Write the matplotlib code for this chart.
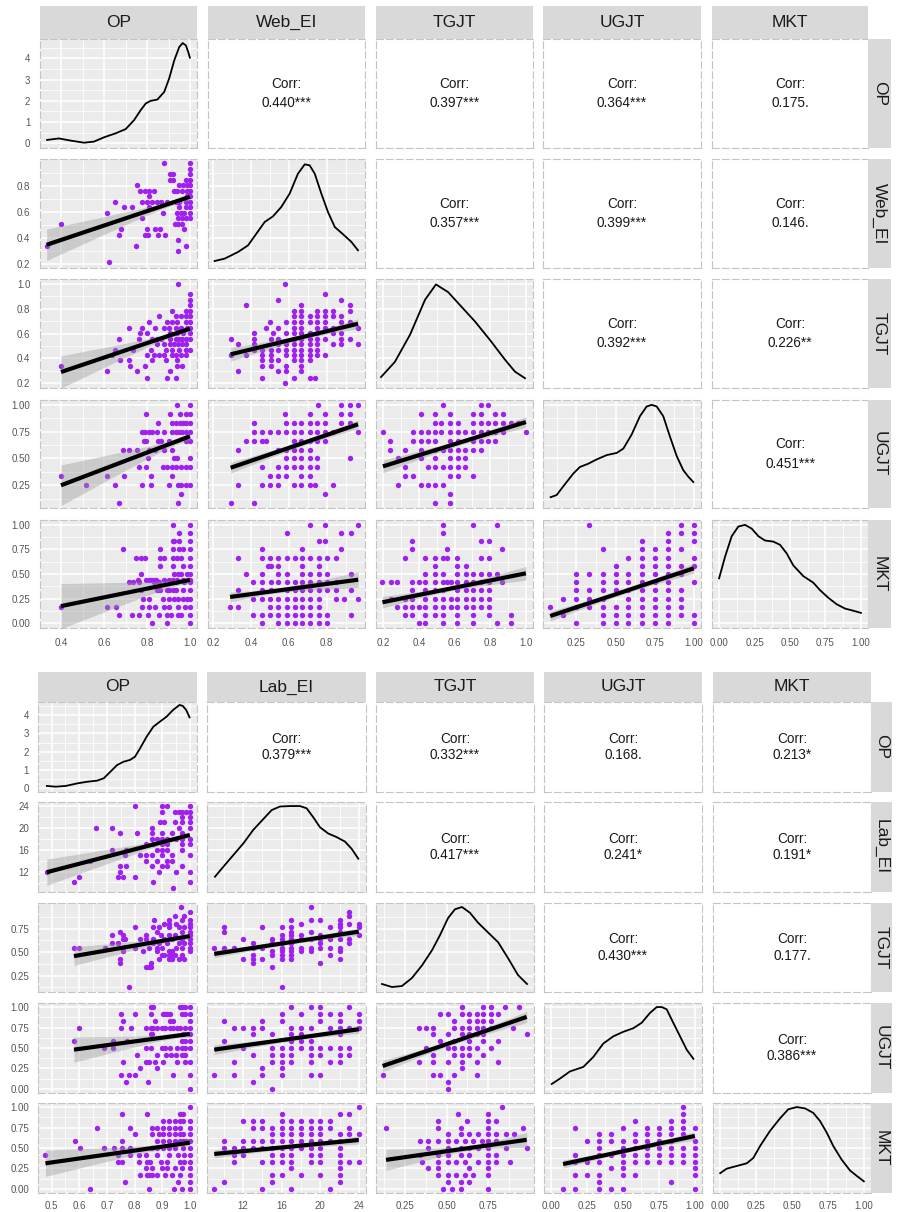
import matplotlib
matplotlib.use("Agg")
import matplotlib.pyplot as plt
import numpy as np

plt.rcParams['font.family'] = ['Liberation Sans', 'DejaVu Sans']

W, H = 901, 1212

# ---------------- upper matrix (Web_EI) ----------------
top_vars = ['OP', 'Web_EI', 'TGJT', 'UGJT', 'MKT']
top_lims = [(0.300, 1.033), (0.172, 1.003), (0.160, 1.040), (0.037, 1.046), (-0.05, 1.05)]
top_breaks = [[0.4, 0.6, 0.8, 1.0], [0.2, 0.4, 0.6, 0.8], [0.2, 0.4, 0.6, 0.8, 1.0],
              [0.25, 0.5, 0.75, 1.0], [0.0, 0.25, 0.5, 0.75, 1.0]]
top_fmt = ['{:.1f}', '{:.1f}', '{:.1f}', '{:.2f}', '{:.2f}']
top_dens_lim = (-0.22, 4.91)
top_corr = [['0.440***', '0.397***', '0.364***', '0.175.'],
            ['0.357***', '0.399***', '0.146.'],
            ['0.392***', '0.226**'],
            ['0.451***']]

# diagonal densities: first one in density units, the others as share of panel height
top_dens_x = [
    [0.333, 0.388, 0.442, 0.505, 0.552, 0.598, 0.653, 0.700, 0.739, 0.770, 0.794, 0.817, 0.848, 0.880,
     0.903, 0.927, 0.950, 0.966, 0.981, 0.992, 1.0],
    [0.207, 0.260, 0.331, 0.384, 0.428, 0.472, 0.516, 0.560, 0.604, 0.648, 0.684, 0.710, 0.737, 0.772,
     0.807, 0.843, 0.887, 0.931, 0.966],
    [0.188, 0.266, 0.351, 0.435, 0.496, 0.564, 0.631, 0.715, 0.799, 0.883, 0.939, 0.995],
    [0.086, 0.124, 0.177, 0.231, 0.273, 0.326, 0.380, 0.444, 0.508, 0.550, 0.603, 0.656, 0.699, 0.731,
     0.763, 0.805, 0.848, 0.891, 0.933, 0.965, 0.997],
    [0.0, 0.042, 0.089, 0.136, 0.183, 0.230, 0.277, 0.324, 0.382, 0.430, 0.477, 0.523, 0.594, 0.664,
     0.712, 0.770, 0.829, 0.888, 0.946, 1.0],
]
top_dens_h = [
    [0.16, 0.23, 0.13, 0.03, 0.08, 0.28, 0.47, 0.67, 1.09, 1.56, 1.88, 2.00, 2.06, 2.42, 3.05, 3.91,
     4.53, 4.72, 4.61, 4.30, 4.03],
    [0.064, 0.086, 0.147, 0.208, 0.315, 0.422, 0.474, 0.560, 0.682, 0.865, 0.951, 0.942, 0.865, 0.682,
     0.514, 0.376, 0.309, 0.239, 0.162],
    [0.10, 0.24, 0.49, 0.81, 0.95, 0.88, 0.76, 0.61, 0.44, 0.26, 0.15, 0.09],
    [0.10, 0.12, 0.22, 0.32, 0.38, 0.41, 0.45, 0.49, 0.51, 0.55, 0.68, 0.85, 0.94, 0.955, 0.94, 0.85,
     0.66, 0.48, 0.35, 0.29, 0.24],
    [0.46, 0.66, 0.85, 0.94, 0.955, 0.92, 0.85, 0.81, 0.80, 0.77, 0.69, 0.58, 0.48, 0.42, 0.35, 0.28,
     0.22, 0.18, 0.16, 0.14],
]

# scatter points: (y level, [x values])
top_web_op = [
    (0.973, [0.878, 1.0]), (0.93, [1.0]), (0.887, [0.906, 0.92, 1.0]),
    (0.846, [0.906, 0.92, 0.98, 1.0]), (0.803, [0.753, 0.948, 0.967, 0.988, 1.0]),
    (0.76, [0.766, 0.789, 0.808, 0.834, 0.925, 0.941, 0.964, 0.988, 1.0]),
    (0.72, [0.808, 0.988, 1.0]),
    (0.677, [0.652, 0.777, 0.80, 0.823, 0.847, 0.863, 0.894, 0.933, 0.948, 0.98, 1.0]),
    (0.634, [0.691, 0.730, 0.808, 0.948, 0.98, 1.0]),
    (0.594, [0.612, 0.873, 0.941, 0.956, 0.972, 1.0]),
    (0.551, [0.777, 0.945, 0.964, 0.98, 1.0]), (0.508, [0.398, 0.93, 0.945, 0.964]),
    (0.467, [0.680, 0.80, 0.836, 0.858, 0.972]), (0.425, [0.667, 0.789, 0.805, 0.852, 0.883]),
    (0.382, [0.945]), (0.341, [0.331, 0.75, 0.98]), (0.298, [0.945]), (0.215, [0.62]),
]
top_tgjt_op = [
    (1.002, [0.945]), (0.916, [1.0]), (0.873, [1.0]), (0.827, [1.0]), (0.782, [0.917, 0.98, 1.0]),
    (0.739, [0.855, 0.933, 0.956, 0.98, 1.0]), (0.693, [0.808, 0.894, 0.917, 0.941, 0.98, 1.0]),
    (0.647, [0.714, 0.777, 0.839, 0.878, 0.902, 0.933, 0.956, 0.988, 1.0]),
    (0.607, [0.769, 0.800, 0.909, 0.941, 0.967, 1.0]),
    (0.558, [0.667, 0.761, 0.823, 0.847, 0.863, 0.909, 0.933, 0.948, 0.964, 0.98, 1.0]),
    (0.513, [0.847, 0.878, 0.905, 0.925, 0.945, 0.961, 0.98]),
    (0.470, [0.648, 0.733, 0.816, 0.886, 0.917, 0.948, 0.98, 1.0]),
    (0.424, [0.636, 0.800, 0.831, 0.855, 0.878, 0.914, 0.936, 0.956, 0.98]),
    (0.384, [0.675, 0.714, 0.823, 0.886, 0.941]), (0.338, [0.398, 0.722, 0.792, 0.941, 0.964]),
    (0.295, [0.612, 0.753, 0.909]), (0.244, [0.800, 0.891, 0.936]),
]
top_tgjt_web = [
    (1.002, [0.581]), (0.916, [0.793]), (0.873, [0.543, 0.878]), (0.827, [0.375, 0.666, 0.922]),
    (0.782, [0.627, 0.666, 0.751, 0.793, 0.834, 0.922]),
    (0.739, [0.627, 0.666, 0.710, 0.751, 0.793, 0.834, 0.878]),
    (0.693, [0.498, 0.587, 0.627, 0.666, 0.710, 0.751, 0.793, 0.878, 0.922]),
    (0.647, [0.477, 0.543, 0.627, 0.666, 0.751, 0.793, 0.834, 0.966]),
    (0.607, [0.415, 0.517, 0.587, 0.627, 0.666, 0.710, 0.751, 0.834, 0.878]),
    (0.558, [0.292, 0.415, 0.507, 0.543, 0.627, 0.666, 0.710, 0.751, 0.793, 0.878, 0.922]),
    (0.513, [0.331, 0.415, 0.543, 0.587, 0.627, 0.666, 0.710, 0.751, 0.834, 0.878, 0.966]),
    (0.470, [0.415, 0.458, 0.507, 0.543, 0.587, 0.627, 0.666, 0.710, 0.751]),
    (0.424, [0.292, 0.375, 0.458, 0.507, 0.587, 0.627, 0.666, 0.710, 0.751, 0.793]),
    (0.384, [0.458, 0.507, 0.543, 0.627, 0.666, 0.710]), (0.338, [0.458, 0.507, 0.587, 0.666]),
    (0.295, [0.331, 0.543, 0.587, 0.666]), (0.244, [0.458, 0.627, 0.710, 0.737]), (0.20, [0.581]),
]
top_ugjt_op = [
    (1.0, [0.941, 1.0]), (0.917, [0.795, 0.909, 0.952, 0.980, 1.0]),
    (0.833, [0.852, 0.917, 0.933, 0.952, 0.967, 0.980, 1.0]),
    (0.75, [0.777, 0.792, 0.808, 0.823, 0.847, 0.878, 0.917, 0.933, 0.948, 0.964, 0.980, 1.0]),
    (0.667, [0.784, 0.795, 0.852, 0.863, 0.902, 0.980, 1.0]),
    (0.583, [0.686, 0.714, 0.753, 0.808, 0.839, 0.878, 0.914]), (0.5, [0.802, 0.925, 0.941, 1.0]),
    (0.417, [0.761, 0.795, 0.873, 0.894, 0.914, 0.933, 0.956, 0.980, 1.0]),
    (0.333, [0.40, 0.612, 0.691, 0.816, 0.917]),
    (0.25, [0.517, 0.652, 0.777, 0.816, 0.902, 0.945, 0.956, 0.980, 1.0]),
    (0.167, [0.956]), (0.083, [0.667, 0.945]),
]
top_ugjt_web = [
    (1.0, [0.754, 0.878, 0.922, 0.966]), (0.917, [0.581, 0.710, 0.793, 0.878, 0.922]),
    (0.833, [0.415, 0.587, 0.627, 0.666, 0.710, 0.751, 0.793, 0.878, 0.922]),
    (0.75, [0.415, 0.458, 0.498, 0.543, 0.587, 0.627, 0.666, 0.710, 0.751, 0.793, 0.834, 0.966]),
    (0.667, [0.375, 0.415, 0.458, 0.477, 0.627, 0.666, 0.710, 0.751, 0.793]),
    (0.583, [0.331, 0.543, 0.587, 0.627, 0.666, 0.710]),
    (0.5, [0.587, 0.627, 0.666, 0.710, 0.751, 0.922]),
    (0.417, [0.458, 0.543, 0.587, 0.627, 0.666, 0.710, 0.751]),
    (0.333, [0.498, 0.543, 0.587, 0.666, 0.710]),
    (0.25, [0.331, 0.458, 0.498, 0.543, 0.627, 0.666, 0.710, 0.737, 0.834]),
    (0.167, [0.793]), (0.083, [0.292, 0.415]),
]
top_ugjt_tgjt = [
    (1.0, [0.536, 0.747, 0.788]), (0.917, [0.411, 0.489, 0.573, 0.704, 0.747, 0.829, 0.872]),
    (0.833, [0.489, 0.526, 0.573, 0.620, 0.704, 0.747, 0.788, 0.829, 0.872, 0.918, 0.956]),
    (0.75, [0.199, 0.367, 0.411, 0.451, 0.489, 0.526, 0.573, 0.620, 0.661, 0.704, 0.747, 0.788,
            0.829, 0.872, 1.0]),
    (0.667, [0.237, 0.367, 0.411, 0.451, 0.489, 0.573, 0.620, 0.704, 0.747, 0.788, 0.829]),
    (0.583, [0.237, 0.321, 0.411, 0.489, 0.536, 0.573, 0.620, 0.661, 0.704, 0.747]),
    (0.5, [0.283, 0.411, 0.489, 0.573, 0.620, 0.661]),
    (0.417, [0.321, 0.451, 0.489, 0.536, 0.573, 0.620, 0.661]),
    (0.333, [0.321, 0.367, 0.573, 0.620, 0.704]), (0.25, [0.283, 0.411, 0.451, 0.489, 0.536]),
    (0.167, [0.577]), (0.083, [0.489, 0.577]),
]
top_mkt_op = [
    (1.0, [0.919, 1.0]), (0.917, [0.947, 1.0]), (0.833, [0.919, 0.927, 0.947, 1.0]),
    (0.75, [0.689, 0.861, 0.919, 0.947, 0.966, 1.0]),
    (0.667, [0.750, 0.770, 0.791, 0.861, 0.880, 0.919, 0.938, 0.958, 1.0]),
    (0.583, [0.861, 0.919, 0.966, 1.0]), (0.5, [0.773, 0.927, 0.942, 0.958, 0.984, 1.0]),
    (0.44, [0.759, 0.797, 0.809, 0.820, 0.833, 0.841, 0.880, 0.903, 0.919, 0.938, 0.966, 1.0]),
    (0.417, [0.716, 0.736, 0.763, 0.833, 0.856, 0.934, 0.970, 1.0]),
    (0.333, [0.770, 0.848, 0.861, 0.891, 0.903, 0.919, 0.934, 0.966, 1.0]),
    (0.25, [0.783, 0.809, 0.872, 0.903, 0.927, 0.942, 0.966, 0.984, 1.0]),
    (0.167, [0.398, 0.611, 0.653, 0.778, 0.809, 0.838, 0.880, 0.903, 0.942, 0.977, 1.0]),
    (0.083, [0.669, 0.728, 0.763, 0.805, 0.856, 0.895, 0.911, 0.942, 0.958, 1.0]),
    (0.0, [0.825, 0.895, 1.0]),
]
top_mkt_web = [
    (1.0, [0.714, 0.793, 0.967]), (0.917, [0.590, 0.877, 0.928]), (0.833, [0.759, 0.793]),
    (0.75, [0.459, 0.669, 0.877]),
    (0.667, [0.330, 0.459, 0.499, 0.545, 0.590, 0.635, 0.669, 0.714, 0.759, 0.800, 0.849]),
    (0.583, [0.488, 0.506, 0.545, 0.669, 0.759]),
    (0.5, [0.375, 0.459, 0.545, 0.590, 0.669, 0.714, 0.759, 0.800, 0.928]),
    (0.417, [0.409, 0.459, 0.506, 0.545, 0.590, 0.635, 0.669, 0.714, 0.759, 0.800, 0.849]),
    (0.333, [0.330, 0.459, 0.506, 0.590, 0.635, 0.669, 0.714, 0.759, 0.800, 0.849, 0.928]),
    (0.25, [0.409, 0.459, 0.499, 0.545, 0.590, 0.635, 0.669, 0.714, 0.759, 0.849, 0.890, 0.967]),
    (0.167, [0.289, 0.330, 0.499, 0.545, 0.590, 0.635, 0.669, 0.714, 0.759]),
    (0.083, [0.409, 0.459, 0.499, 0.545, 0.590, 0.635, 0.669, 0.714, 0.759, 0.800, 0.928]),
    (0.0, [0.459, 0.545, 0.590, 0.635, 0.669, 0.714, 0.759, 0.800]),
]
top_mkt_tgjt = [
    (1.0, [0.536, 0.704, 0.836]), (0.917, [0.536]), (0.833, [0.364, 0.748, 0.795]),
    (0.75, [0.364, 0.560, 0.867]),
    (0.667, [0.321, 0.436, 0.489, 0.536, 0.560, 0.616, 0.748, 0.795]),
    (0.583, [0.489, 0.616, 0.664]),
    (0.5, [0.436, 0.489, 0.536, 0.616, 0.664, 0.704, 0.748, 0.795, 0.836]),
    (0.417, [0.196, 0.244, 0.280, 0.364, 0.400, 0.436, 0.489, 0.536, 0.560, 0.580, 0.616, 0.664,
             0.704, 0.748, 0.795, 0.867]),
    (0.333, [0.364, 0.436, 0.489, 0.536, 0.616, 0.664, 0.704, 0.748, 0.795]),
    (0.25, [0.244, 0.321, 0.364, 0.436, 0.489, 0.536, 0.580, 0.616, 0.664, 0.704, 0.748, 0.795]),
    (0.167, [0.280, 0.321, 0.364, 0.400, 0.436, 0.489, 0.536, 0.580, 0.616, 0.664, 0.704, 0.748,
             0.795]),
    (0.083, [0.321, 0.364, 0.436, 0.489, 0.536, 0.616, 0.704, 0.795, 0.915]),
    (0.0, [0.400, 0.436, 0.536, 0.616, 0.704, 0.836, 0.915]),
]
top_mkt_ugjt = [
    (1.0, [0.333, 0.917, 1.0]), (0.917, [0.833, 0.917, 1.0]), (0.833, [0.667, 0.833, 1.0]),
    (0.75, [0.417, 0.667, 0.75, 0.833, 0.917]), (0.667, [0.583, 0.667, 0.75, 0.833, 1.0]),
    (0.583, [0.5, 0.667, 0.75, 0.833, 0.917, 1.0]),
    (0.5, [0.25, 0.333, 0.417, 0.5, 0.583, 0.667, 0.75, 0.833, 0.917]),
    (0.417, [0.25, 0.417, 0.5, 0.583, 0.667, 0.75, 0.833, 1.0]),
    (0.333, [0.25, 0.333, 0.417, 0.5, 0.583, 0.667, 0.75, 0.833, 0.917]),
    (0.25, [0.167, 0.25, 0.333, 0.417, 0.583, 0.667, 0.75, 0.833, 0.917]),
    (0.167, [0.083, 0.25, 0.333, 0.417, 0.5, 0.583, 0.667, 0.75, 0.833, 0.917]),
    (0.083, [0.167, 0.417, 0.5, 0.583, 0.667, 0.75, 0.833, 0.917, 1.0]),
    (0.0, [0.25, 0.417, 0.5, 0.583, 0.667, 0.75, 0.833, 1.0]),
]
# lm fits: x start, y start, x end, y end, band half-width at start, minimum, at end
top_fit_web_op = (0.331, 0.349, 1.0, 0.715, 0.12, 0.02, 0.025)
top_fit_tgjt_op = (0.398, 0.289, 1.0, 0.639, 0.13, 0.02, 0.03)
top_fit_tgjt_web = (0.292, 0.432, 0.966, 0.679, 0.055, 0.02, 0.04)
top_fit_ugjt_op = (0.398, 0.249, 1.0, 0.707, 0.19, 0.03, 0.035)
top_fit_ugjt_web = (0.292, 0.413, 0.966, 0.819, 0.05, 0.025, 0.04)
top_fit_ugjt_tgjt = (0.199, 0.426, 1.0, 0.84, 0.06, 0.025, 0.05)
top_fit_mkt_op = (0.398, 0.173, 1.0, 0.44, 0.23, 0.03, 0.035)
top_fit_mkt_web = (0.289, 0.266, 0.967, 0.442, 0.05, 0.025, 0.08)
top_fit_mkt_tgjt = (0.196, 0.212, 1.0, 0.507, 0.06, 0.025, 0.07)
top_fit_mkt_ugjt = (0.083, 0.072, 1.0, 0.558, 0.05, 0.025, 0.05)

# ---------------- lower matrix (Lab_EI) ----------------
bot_vars = ['OP', 'Lab_EI', 'TGJT', 'UGJT', 'MKT']
bot_lims = [(0.451, 1.026), (8.25, 24.75), (0.075, 1.025), (-0.05, 1.05), (-0.05, 1.05)]
bot_breaks = [[0.5, 0.6, 0.7, 0.8, 0.9, 1.0], [12, 16, 20, 24], [0.25, 0.5, 0.75],
              [0.0, 0.25, 0.5, 0.75, 1.0], [0.0, 0.25, 0.5, 0.75, 1.0]]
bot_fmt = ['{:.1f}', '{:.0f}', '{:.2f}', '{:.2f}', '{:.2f}']
bot_dens_lim = (-0.2, 4.71)
bot_corr = [['0.379***', '0.332***', '0.168.', '0.213*'],
            ['0.417***', '0.241*', '0.191*'],
            ['0.430***', '0.177.'],
            ['0.386***']]

bot_dens_x = [
    [0.483, 0.515, 0.551, 0.593, 0.629, 0.665, 0.689, 0.713, 0.737, 0.760, 0.784, 0.802, 0.820, 0.844,
     0.868, 0.892, 0.916, 0.939, 0.963, 0.975, 0.987, 0.999],
    [9.08, 9.94, 10.98, 12.02, 13.05, 14.09, 14.96, 15.82, 16.86, 17.90, 18.59, 19.28, 19.97, 20.83,
     21.70, 22.57, 23.26, 23.95],
    [0.111, 0.171, 0.231, 0.291, 0.352, 0.412, 0.460, 0.508, 0.550, 0.592, 0.640, 0.688, 0.748, 0.809,
     0.869, 0.929, 0.983],
    [0.004, 0.061, 0.131, 0.224, 0.293, 0.363, 0.433, 0.502, 0.572, 0.630, 0.688, 0.735, 0.770, 0.804,
     0.850, 0.897, 0.944, 0.990],
    [0.0, 0.045, 0.115, 0.185, 0.231, 0.277, 0.347, 0.417, 0.474, 0.533, 0.591, 0.648, 0.695, 0.742,
     0.788, 0.846, 0.904, 0.951, 1.0],
]
bot_dens_h = [
    [0.13, 0.09, 0.13, 0.27, 0.36, 0.42, 0.55, 0.91, 1.27, 1.45, 1.55, 1.73, 2.18, 2.82, 3.36, 3.64,
     3.91, 4.27, 4.55, 4.49, 4.27, 3.87],
    [0.17, 0.28, 0.41, 0.54, 0.69, 0.81, 0.91, 0.95, 0.955, 0.955, 0.93, 0.83, 0.72, 0.65, 0.61, 0.56,
     0.48, 0.37],
    [0.09, 0.056, 0.067, 0.157, 0.30, 0.47, 0.64, 0.83, 0.93, 0.955, 0.89, 0.78, 0.67, 0.56, 0.38, 0.19,
     0.09],
    [0.10, 0.16, 0.24, 0.29, 0.40, 0.55, 0.63, 0.68, 0.72, 0.78, 0.89, 0.955, 0.955, 0.93, 0.78, 0.63,
     0.48, 0.38],
    [0.22, 0.27, 0.30, 0.33, 0.39, 0.52, 0.69, 0.83, 0.93, 0.955, 0.94, 0.89, 0.80, 0.67, 0.52, 0.37,
     0.25, 0.19, 0.13],
]

bot_lab_op = [
    (24, [0.800, 0.899, 0.919, 1.0]), (23, [0.899, 0.947, 0.961, 0.973, 0.985, 1.0]),
    (22, [0.973, 1.0]), (21, [0.892, 0.907, 0.947, 0.973, 1.0]), (20, [0.660, 0.720, 0.863, 0.961, 1.0]),
    (19, [0.749, 0.809, 0.863, 0.899, 0.935, 0.973]),
    (18, [0.863, 0.880, 0.899, 0.919, 0.949, 0.973, 1.0]), (17, [0.842, 0.866, 0.899, 0.919, 0.973, 1.0]),
    (16, [0.720, 0.770, 0.880, 0.899, 0.919, 0.973]),
    (15, [0.767, 0.820, 0.842, 0.863, 0.899, 0.935, 1.0]), (14, [0.638, 0.842, 0.880, 0.919, 0.935]),
    (13, [0.749, 0.770, 0.863, 0.899, 0.919, 0.973]), (12, [0.483, 0.749, 0.889, 0.949, 1.0]),
    (11, [0.600, 0.740, 0.760, 0.800]), (10, [0.581, 0.868, 1.0]), (9, [0.939]),
]
bot_tgjt_op = [
    (0.979, [0.967]), (0.934, [1.0]), (0.890, [0.947, 0.979]), (0.842, [0.869, 0.925, 0.973, 1.0]),
    (0.798, [0.907, 0.925, 0.949, 1.0]), (0.764, [0.800, 0.866, 0.889, 0.925, 0.961, 0.979, 1.0]),
    (0.719, [0.749, 0.883, 0.973, 1.0]), (0.679, [0.720, 0.760, 0.842, 0.895, 0.925, 0.947, 1.0]),
    (0.638, [0.760, 0.767, 0.820, 0.842, 0.866, 0.907, 0.935, 0.973, 1.0]),
    (0.594, [0.720, 0.740, 0.866, 0.889, 0.919, 0.961, 0.979, 1.0]),
    (0.550, [0.581, 0.600, 0.692, 0.760, 0.800, 0.854, 0.883, 0.899, 0.949, 0.973, 1.0]),
    (0.509, [0.760, 0.830, 0.880, 0.923, 0.935, 1.0]),
    (0.468, [0.899, 0.907, 0.923, 0.935, 0.947, 0.973]),
    (0.423, [0.749, 0.889, 0.923, 0.937, 0.961, 0.979]), (0.380, [0.749, 0.859]),
    (0.339, [0.842, 0.851, 0.859]), (0.128, [0.780]),
]
bot_tgjt_lab = [
    (0.979, [19]), (0.934, [23]), (0.890, [23]), (0.842, [17, 19, 20, 22]), (0.798, [18, 22, 23, 24]),
    (0.764, [10, 14, 16, 17, 21, 22, 24]), (0.719, [10, 17, 19, 22]), (0.679, [16, 17, 18, 20, 24]),
    (0.638, [12, 15, 16, 17, 18, 19, 20, 21, 22, 23]), (0.594, [13, 15, 16, 17, 20, 23]),
    (0.550, [9, 10, 11, 13, 14, 16, 17, 18, 19, 20, 21, 22]), (0.509, [15, 16, 17, 18, 19, 22]),
    (0.468, [13, 15, 16, 17, 21]), (0.423, [12, 13, 14, 16, 17, 22]), (0.380, [13, 20]),
    (0.339, [15]), (0.128, [16]),
]
bot_ugjt_op = [
    (1.0, [0.860, 0.868, 0.964, 0.973, 0.983, 1.0]),
    (0.917, [0.751, 0.800, 0.860, 0.903, 0.912, 0.919, 0.927, 0.973, 0.983, 1.0]),
    (0.833, [0.760, 0.874, 0.930, 0.940, 1.0]),
    (0.75, [0.601, 0.751, 0.788, 0.840, 0.860, 0.868, 0.880, 0.898, 0.912, 0.927, 0.940, 0.952, 0.964,
            0.983, 1.0]),
    (0.667, [0.860, 0.865, 0.976, 1.0]), (0.583, [0.581, 0.721, 0.772, 0.973, 0.983, 1.0]),
    (0.5, [0.691, 0.721, 0.840, 0.860, 0.898, 0.912, 0.930, 0.952, 0.970, 0.983, 1.0]),
    (0.417, [0.810, 0.882, 0.915, 0.931, 0.949, 0.970, 0.983]),
    (0.333, [0.760, 0.840, 0.853, 0.874, 0.903, 0.952, 0.983, 1.0]), (0.25, [0.820, 0.880]),
    (0.167, [0.751, 0.781, 0.800, 0.940, 1.0]), (0.083, [0.770, 0.850]), (0.0, [1.0]),
]
bot_ugjt_lab = [
    (1.0, [17, 19, 20, 23]), (0.917, [16, 18, 20, 21, 22, 24]), (0.833, [10, 14, 16, 20, 22, 24]),
    (0.75, [11, 12, 13, 14, 17, 18, 19, 21, 22, 23, 24]), (0.667, [13, 15, 17, 18, 22]),
    (0.583, [10, 17, 18, 19]), (0.5, [12, 15, 16, 17, 18, 19, 20, 21, 22, 23]),
    (0.417, [13, 15, 16, 17, 19, 20, 22, 23]), (0.333, [11, 15, 16, 17, 19, 21, 22]),
    (0.25, [14, 16]), (0.167, [9, 11, 14, 16, 19, 20]), (0.083, [13]), (0.0, [15]),
]
bot_ugjt_tgjt = [
    (1.0, [0.592, 0.720, 0.767, 0.852, 0.937]),
    (0.917, [0.460, 0.506, 0.592, 0.636, 0.680, 0.720, 0.767, 0.807]),
    (0.833, [0.546, 0.636, 0.680, 0.720, 0.767]),
    (0.75, [0.332, 0.376, 0.416, 0.546, 0.592, 0.636, 0.680, 0.720, 0.767, 0.897]),
    (0.667, [0.416, 0.506, 0.592, 0.636, 0.680, 0.720, 0.981]),
    (0.583, [0.460, 0.546, 0.636, 0.720, 0.807]),
    (0.5, [0.376, 0.506, 0.546, 0.592, 0.636, 0.680, 0.767]),
    (0.417, [0.416, 0.546, 0.592, 0.636, 0.720]), (0.333, [0.332, 0.416, 0.506, 0.592, 0.680, 0.807]),
    (0.25, [0.592]), (0.167, [0.115, 0.416, 0.460, 0.546, 0.680]), (0.083, [0.506]), (0.0, [0.506]),
]
bot_mkt_op = [
    (1.0, [1.0]), (0.917, [0.753, 0.846, 0.965, 0.975]), (0.833, [0.903, 0.926, 0.945, 0.965, 0.975, 1.0]),
    (0.75, [0.663, 0.784, 0.865, 0.880, 0.903, 0.926, 0.945, 0.965, 1.0]),
    (0.667, [0.803, 0.865, 0.888, 0.903, 0.926, 0.945, 0.965, 0.975, 1.0]),
    (0.583, [0.583, 0.753, 0.880, 0.903, 0.926, 0.945, 0.965, 0.975, 0.985, 1.0]),
    (0.5, [0.602, 0.691, 0.725, 0.753, 0.784, 0.865, 0.880, 0.903, 0.926, 0.945, 0.975, 1.0]),
    (0.417, [0.478, 0.741, 0.784, 0.818, 0.841, 0.880, 0.926, 0.957, 0.980, 1.0]),
    (0.333, [0.741, 0.753, 0.818, 0.846, 0.857, 0.895, 0.919, 0.965, 0.980, 1.0]),
    (0.25, [0.841, 0.865, 0.898, 0.919, 0.945, 0.973, 1.0]),
    (0.167, [0.821, 0.846, 0.852, 0.865, 0.880, 0.911, 0.934, 0.965, 1.0]),
    (0.083, [0.764, 0.957, 1.0]), (0.0, [0.640, 0.852, 0.942, 0.973, 1.0]),
]
bot_mkt_lab = [
    (1.0, [24]), (0.917, [16, 22, 23]), (0.833, [12, 13, 14, 16, 17, 18, 19, 20, 21]),
    (0.75, [13, 14, 15, 16, 17, 18, 19, 20, 21, 23]), (0.667, [15, 16, 17, 18, 19, 20, 22, 23, 24]),
    (0.583, [10, 12, 13, 14, 15, 16, 17, 18, 19, 20, 21, 22]),
    (0.5, [10, 11, 12, 13, 14, 15, 16, 17, 18, 19, 20, 22]), (0.417, [11, 12, 15, 16, 17, 19, 20, 22]),
    (0.333, [11, 14, 15, 16, 17, 19, 20, 22, 23, 24]), (0.25, [17, 22]), (0.167, [15, 16, 18, 20, 22]),
    (0.083, [10, 15, 22]), (0.0, [9, 14, 17, 21]),
]
bot_mkt_tgjt = [
    (1.0, [0.830]), (0.917, [0.571, 0.747]), (0.833, [0.446, 0.622, 0.747, 0.798]),
    (0.75, [0.135, 0.446, 0.584, 0.747, 0.960]),
    (0.667, [0.506, 0.584, 0.635, 0.687, 0.747, 0.798, 0.856, 0.907]),
    (0.583, [0.337, 0.389, 0.446, 0.506, 0.558, 0.610, 0.661, 0.713, 0.747, 0.798]),
    (0.5, [0.389, 0.506, 0.584, 0.635, 0.687, 0.747, 0.856, 0.981]),
    (0.417, [0.337, 0.446, 0.506, 0.584, 0.635, 0.747, 0.798]),
    (0.333, [0.350, 0.446, 0.506, 0.558, 0.610, 0.687, 0.747, 0.798, 0.881]),
    (0.25, [0.389, 0.446, 0.635, 0.747]), (0.167, [0.446, 0.506, 0.558, 0.610, 0.661, 0.747]),
    (0.083, [0.506, 0.584, 0.635]), (0.0, [0.480, 0.532, 0.584, 0.747]),
]
bot_mkt_ugjt = [
    (1.0, [0.917]), (0.917, [0.917]), (0.833, [0.583, 0.833, 0.917]),
    (0.75, [0.167, 0.5, 0.667, 0.75, 0.833, 0.917, 1.0]),
    (0.667, [0.333, 0.417, 0.583, 0.667, 0.75, 0.833, 0.917]),
    (0.583, [0.25, 0.333, 0.417, 0.5, 0.583, 0.667, 0.75, 0.833, 1.0]),
    (0.5, [0.333, 0.5, 0.583, 0.667, 0.75, 0.833, 0.917, 1.0]),
    (0.417, [0.167, 0.333, 0.417, 0.5, 0.583, 0.667, 0.75, 0.833, 0.917, 1.0]),
    (0.333, [0.167, 0.25, 0.333, 0.5, 0.583, 0.667, 0.75, 0.833, 0.917, 1.0]),
    (0.25, [0.417, 0.5, 1.0]), (0.167, [0.167, 0.25, 0.333, 0.5, 0.583, 1.0]),
    (0.083, [0.333, 0.833]), (0.0, [0.083, 0.167, 0.333, 0.417, 0.5, 1.0]),
]
bot_fit_lab_op = (0.483, 11.88, 1.0, 18.7, 2.4, 0.4, 0.5)
bot_fit_tgjt_op = (0.581, 0.458, 1.0, 0.672, 0.10, 0.025, 0.03)
bot_fit_tgjt_lab = (9, 0.482, 24, 0.719, 0.04, 0.02, 0.04)
bot_fit_ugjt_op = (0.581, 0.48, 1.0, 0.672, 0.155, 0.03, 0.04)
bot_fit_ugjt_lab = (9, 0.48, 24, 0.729, 0.06, 0.025, 0.05)
bot_fit_ugjt_tgjt = (0.115, 0.28, 0.981, 0.88, 0.07, 0.03, 0.07)
bot_fit_mkt_op = (0.478, 0.313, 1.0, 0.565, 0.16, 0.03, 0.04)
bot_fit_mkt_lab = (9, 0.427, 24, 0.598, 0.05, 0.025, 0.05)
bot_fit_mkt_tgjt = (0.135, 0.355, 0.981, 0.60, 0.13, 0.03, 0.09)
bot_fit_mkt_ugjt = (0.083, 0.304, 1.0, 0.647, 0.05, 0.025, 0.05)

top_scatter = {(1, 0): (top_web_op, top_fit_web_op), (2, 0): (top_tgjt_op, top_fit_tgjt_op),
               (2, 1): (top_tgjt_web, top_fit_tgjt_web), (3, 0): (top_ugjt_op, top_fit_ugjt_op),
               (3, 1): (top_ugjt_web, top_fit_ugjt_web), (3, 2): (top_ugjt_tgjt, top_fit_ugjt_tgjt),
               (4, 0): (top_mkt_op, top_fit_mkt_op), (4, 1): (top_mkt_web, top_fit_mkt_web),
               (4, 2): (top_mkt_tgjt, top_fit_mkt_tgjt), (4, 3): (top_mkt_ugjt, top_fit_mkt_ugjt)}
bot_scatter = {(1, 0): (bot_lab_op, bot_fit_lab_op), (2, 0): (bot_tgjt_op, bot_fit_tgjt_op),
               (2, 1): (bot_tgjt_lab, bot_fit_tgjt_lab), (3, 0): (bot_ugjt_op, bot_fit_ugjt_op),
               (3, 1): (bot_ugjt_lab, bot_fit_ugjt_lab), (3, 2): (bot_ugjt_tgjt, bot_fit_ugjt_tgjt),
               (4, 0): (bot_mkt_op, bot_fit_mkt_op), (4, 1): (bot_mkt_lab, bot_fit_mkt_lab),
               (4, 2): (bot_mkt_tgjt, bot_fit_mkt_tgjt), (4, 3): (bot_mkt_ugjt, bot_fit_mkt_ugjt)}

PANEL_BG = '#EBEBEB'
STRIP_BG = '#D9D9D9'
POINT = '#A020F0'
TICK_GREY = '#555555'


def box(x0, y0, x1, y1):
    return [x0 / W, 1 - y1 / H, (x1 - x0) / W, (y1 - y0) / H]


def minor_breaks(br, lim):
    step = br[1] - br[0]
    cand = [b - step / 2 for b in br] + [br[-1] + step / 2]
    return [c for c in cand if lim[0] <= c <= lim[1]]


def unpack(rows):
    xs = [x for y, row in rows for x in row]
    ys = [y for y, row in rows for x in row]
    return xs, ys


def dashed_frame(ax):
    for s in ax.spines.values():
        s.set_visible(True)
        s.set_color('#C4C4C4')
        s.set_linewidth(0.8)
        s.set_linestyle((0, (6, 3)))


def draw_fit(ax, fit):
    x1, y1, x2, y2, wl, w0, wr = fit
    xs = np.linspace(x1, x2, 100)
    line = y1 + (y2 - y1) / (x2 - x1) * (xs - x1)
    a, b = np.sqrt(wl ** 2 - w0 ** 2), np.sqrt(wr ** 2 - w0 ** 2)
    xc = (a * x2 + b * x1) / (a + b)
    c = ((a + b) / (x2 - x1)) ** 2
    w = np.sqrt(w0 ** 2 + c * (xs - xc) ** 2)
    ax.fill_between(xs, line - w, line + w, color='#999999', alpha=0.4, lw=0, zorder=3)
    ax.plot(xs, line, color='black', lw=3.0, solid_capstyle='butt', zorder=4)


def draw_matrix(fig, cols, rows, strip_y, strip_x, names, lims, breaks, fmts,
                dens_lim, dens_x, dens_h, scatter, corr, xpad, ypad):
    n = len(names)
    for i in range(n):
        for j in range(n):
            (x0, x1), (y0, y1) = cols[j], rows[i]
            ax = fig.add_axes(box(x0, y0, x1, y1))
            dashed_frame(ax)
            ax.tick_params(length=0, labelsize=7, labelcolor=TICK_GREY, pad=xpad)
            ax.tick_params(axis='y', pad=ypad)
            if i < j:
                ax.set_facecolor('white')
                ax.set_xticks([])
                ax.set_yticks([])
                ax.text(0.5, 0.59, 'Corr:', ha='center', va='center', fontsize=9.8,
                        color='#1A1A1A', transform=ax.transAxes)
                ax.text(0.5, 0.41, corr[i][j - i - 1], ha='center', va='center', fontsize=9.8,
                        color='#1A1A1A', transform=ax.transAxes)
                continue

            ax.set_facecolor(PANEL_BG)
            ax.set_axisbelow(True)
            ax.set_xlim(lims[j])
            ax.set_xticks(breaks[j])
            ax.set_xticks(minor_breaks(breaks[j], lims[j]), minor=True)
            ax.set_xticklabels([fmts[j].format(v) for v in breaks[j]])
            if i == j and i == 0:
                ylim, ybr, yfmt = dens_lim, [0, 1, 2, 3, 4], '{:.0f}'
            else:
                ylim, ybr, yfmt = lims[i], breaks[i], fmts[i]
            ax.set_ylim(ylim)
            ax.set_yticks(ybr)
            ax.set_yticks(minor_breaks(ybr, ylim), minor=True)
            ax.set_yticklabels([yfmt.format(v) for v in ybr])
            ax.tick_params(which='minor', length=0)
            ax.grid(which='major', color='white', lw=1.1)
            ax.grid(which='minor', color='white', lw=0.55)

            if i == j:
                if i == 0:
                    ys = dens_h[i]
                else:
                    lo, hi = lims[i]
                    ys = [lo + h * (hi - lo) for h in dens_h[i]]
                ax.plot(dens_x[i], ys, color='black', lw=1.3, zorder=3,
                        solid_joinstyle='round')
            else:
                pts, fit = scatter[(i, j)]
                xs, ys = unpack(pts)
                ax.scatter(xs, ys, s=15, color=POINT, lw=0, zorder=2)
                draw_fit(ax, fit)

            ax.tick_params(labelbottom=(i == n - 1), labelleft=(j == 0))

    for j in range(n):
        ax = fig.add_axes(box(cols[j][0], strip_y[0], cols[j][1], strip_y[1]))
        ax.set_facecolor(STRIP_BG)
        ax.set_xticks([])
        ax.set_yticks([])
        for s in ax.spines.values():
            s.set_visible(False)
        ax.text(0.5, 0.5, names[j], ha='center', va='center', fontsize=12.5, color='#1A1A1A',
                transform=ax.transAxes)
    for i in range(n):
        ax = fig.add_axes(box(strip_x[0], rows[i][0], strip_x[1], rows[i][1]))
        ax.set_facecolor(STRIP_BG)
        ax.set_xticks([])
        ax.set_yticks([])
        for s in ax.spines.values():
            s.set_visible(False)
        ax.text(0.5, 0.5, names[i], ha='center', va='center', fontsize=12.5, color='#1A1A1A',
                rotation=-90, transform=ax.transAxes)


fig = plt.figure(figsize=(W / 100, H / 100), dpi=100)
fig.patch.set_facecolor('white')

draw_matrix(fig,
            cols=[(40, 197), (208, 365), (376, 533), (543, 701), (712, 868)],
            rows=[(39, 148), (159, 268), (279, 388), (400, 508), (520, 628)],
            strip_y=(6, 39), strip_x=(868, 891),
            names=top_vars, lims=top_lims, breaks=top_breaks, fmts=top_fmt,
            dens_lim=top_dens_lim, dens_x=top_dens_x, dens_h=top_dens_h,
            scatter=top_scatter, corr=top_corr, xpad=7, ypad=7)

draw_matrix(fig,
            cols=[(38, 197), (207, 366), (376, 534), (544, 702), (713, 871)],
            rows=[(702, 792), (802, 892), (903, 992), (1003, 1093), (1103, 1193)],
            strip_y=(672, 702), strip_x=(871, 892),
            names=bot_vars, lims=bot_lims, breaks=bot_breaks, fmts=bot_fmt,
            dens_lim=bot_dens_lim, dens_x=bot_dens_x, dens_h=bot_dens_h,
            scatter=bot_scatter, corr=bot_corr, xpad=5.5, ypad=6.5)

fig.savefig('out.png', dpi=100, facecolor='white')
